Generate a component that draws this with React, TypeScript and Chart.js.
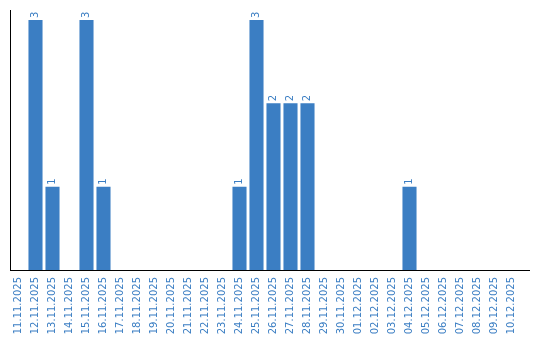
import React, { useEffect, useRef } from "react";
import { Chart, registerables } from "chart.js";

Chart.register(...registerables);

const dates = [
  "11.11.2025", "12.11.2025", "13.11.2025", "14.11.2025", "15.11.2025", "16.11.2025",
  "17.11.2025", "18.11.2025", "19.11.2025", "20.11.2025", "21.11.2025", "22.11.2025",
  "23.11.2025", "24.11.2025", "25.11.2025", "26.11.2025", "27.11.2025", "28.11.2025",
  "29.11.2025", "30.11.2025", "01.12.2025", "02.12.2025", "03.12.2025", "04.12.2025",
  "05.12.2025", "06.12.2025", "07.12.2025", "08.12.2025", "09.12.2025", "10.12.2025",
];
const counts = [
  0, 3, 1, 0, 3, 1,
  0, 0, 0, 0, 0, 0,
  0, 1, 3, 2, 2, 2,
  0, 0, 0, 0, 0, 1,
  0, 0, 0, 0, 0, 0,
];

const BLUE = "#3b7ec3";

const valueLabels = {
  id: "valueLabels",
  afterDatasetsDraw(chart: any) {
    const ctx = chart.ctx;
    const meta = chart.getDatasetMeta(0);
    const data = chart.data.datasets[0].data;
    ctx.save();
    ctx.fillStyle = BLUE;
    ctx.font = "10px 'DejaVu Sans'";
    ctx.textAlign = "left";
    ctx.textBaseline = "middle";
    meta.data.forEach((bar: any, i: number) => {
      const v = data[i];
      if (!v) return;
      ctx.save();
      ctx.translate(bar.x, bar.y - 2);
      ctx.rotate(-Math.PI / 2);
      ctx.fillText(String(v), 0, 0);
      ctx.restore();
    });
    ctx.restore();
  },
};

const extendBaseline = {
  id: "extendBaseline",
  afterDraw(chart: any) {
    const ctx = chart.ctx;
    const a = chart.chartArea;
    ctx.save();
    ctx.strokeStyle = "#000";
    ctx.lineWidth = 1;
    ctx.beginPath();
    ctx.moveTo(a.right - 1, Math.round(a.bottom) + 0.5);
    ctx.lineTo(a.right + 10, Math.round(a.bottom) + 0.5);
    ctx.stroke();
    ctx.restore();
  },
};

export default function App() {
  const ref = useRef<HTMLCanvasElement | null>(null);
  useEffect(() => {
    document.body.style.margin = "0";
    const chart = new Chart(ref.current as HTMLCanvasElement, {
      type: "bar",
      data: {
        labels: dates,
        datasets: [
          {
            data: counts,
            backgroundColor: BLUE,
            barPercentage: 0.9,
            categoryPercentage: 0.92,
          },
        ],
      },
      options: {
        responsive: false,
        animation: false,
        maintainAspectRatio: false,
        layout: { padding: { left: 10, right: 20, top: 10, bottom: 0 } },
        plugins: { legend: { display: false }, tooltip: { enabled: false } },
        scales: {
          x: {
            grid: { display: false, drawTicks: false },
            border: { display: true, color: "#000", width: 1 },
            ticks: {
              color: BLUE,
              font: { family: "'DejaVu Sans'", size: 10 },
              minRotation: 90,
              maxRotation: 90,
              autoSkip: false,
              padding: 7,
            },
            afterFit: (s: any) => {
              s.height = 70;
            },
          },
          y: {
            min: 0,
            max: 3.12,
            ticks: { display: false },
            grid: { display: false, drawTicks: false },
            border: { display: true, color: "#000", width: 1 },
            afterFit: (s: any) => {
              s.width = 0;
            },
          },
        },
      },
      plugins: [valueLabels, extendBaseline],
    });
    return () => chart.destroy();
  }, []);
  return (
    <div style={{ width: 540, height: 340 }}>
      <canvas ref={ref} width={540} height={340} />
    </div>
  );
}
